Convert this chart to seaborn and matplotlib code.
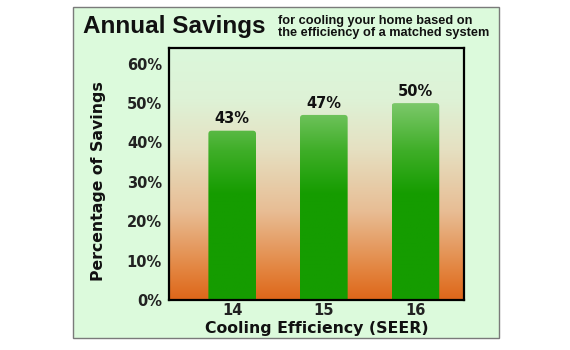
import numpy as np
import pandas as pd
import matplotlib
matplotlib.use("Agg")
import matplotlib.pyplot as plt
import seaborn as sns
from matplotlib.patches import Rectangle, FancyBboxPatch
from matplotlib.colors import LinearSegmentedColormap

# ---- data ----
seer = ["14", "15", "16"]
savings = [43, 47, 50]
ytick_vals = [0, 10, 20, 30, 40, 50, 60]
ytick_labels = ["0%", "10%", "20%", "30%", "40%", "50%", "60%"]
title = "Annual Savings"
subtitle = "for cooling your home based on\nthe efficiency of a matched system"
xlabel = "Cooling Efficiency (SEER)"
ylabel = "Percentage of Savings"

sns.set_theme(style="white")
plt.rcParams["font.family"] = ["Liberation Sans", "DejaVu Sans"]
BOLD = ["DejaVu Sans"]

W, H = 570, 350
fig = plt.figure(figsize=(W / 100, H / 100), dpi=100)
fig.patch.set_facecolor("white")

# light green panel
fig.patches.append(Rectangle((73 / W, 1 - 338 / H), (499 - 73) / W, (338 - 7) / H,
                             transform=fig.transFigure, facecolor="#dcfadc",
                             edgecolor="#7a7a7a", linewidth=1.0, zorder=-5))

ax = fig.add_axes([169 / W, 1 - 300 / H, (464 - 169) / W, (300 - 48) / H])
ax.set_zorder(5)
df = pd.DataFrame({"seer": seer, "savings": savings})
sns.barplot(data=df, x="seer", y="savings", ax=ax, width=0.52, color="#1a9e00")

YMAX = 64
ax.set_ylim(0, YMAX)
ax.set_xlim(-0.69, 2.53)

# background gradient
bg_cmap = LinearSegmentedColormap.from_list("bg", [
    (0.0, (0.87, 0.40, 0.10)),
    (0.12, (0.89, 0.52, 0.25)),
    (0.35, (0.91, 0.74, 0.58)),
    (0.6, (0.90, 0.88, 0.76)),
    (0.8, (0.87, 0.95, 0.84)),
    (1.0, (0.86, 0.97, 0.86)),
])
grad = np.linspace(0, 1, 256).reshape(-1, 1)
ax.imshow(grad, cmap=bg_cmap, origin="lower", aspect="auto",
          extent=[0, 1, 0, 1], transform=ax.transAxes, zorder=0)

# bar gradient (absolute in y)
bar_cmap = LinearSegmentedColormap.from_list("bar", [
    (0.0, "#159c00"),
    (27 / YMAX, "#159c00"),
    (38 / YMAX, "#3fae28"),
    (50 / YMAX, "#7cc86a"),
    (1.0, "#8ad07a"),
])
px_x = (464 - 169) / (2.53 + 0.69)
px_y = (300 - 48) / YMAX
for p, v in zip(list(ax.patches), savings):
    x0 = p.get_x()
    w = p.get_width()
    p.set_visible(False)
    fb = FancyBboxPatch((x0, -3), w, p.get_height() + 3,
                        boxstyle="round,pad=0,rounding_size=0.035",
                        mutation_aspect=px_x / px_y,
                        facecolor="none", edgecolor="none")
    ax.add_patch(fb)
    im = ax.imshow(grad, cmap=bar_cmap, origin="lower", aspect="auto",
                   extent=[x0, x0 + w, 0, YMAX], zorder=2)
    im.set_clip_path(fb)
    ax.text(x0 + w / 2, v + 1.1, f"{v}%", ha="center", va="bottom",
            fontsize=10.5, fontweight="bold", family=BOLD, color="#111111", zorder=3)

ax.set_xlim(-0.69, 2.53)
ax.set_ylim(0, YMAX)

ax.set_yticks(ytick_vals)
ax.set_yticklabels(ytick_labels, fontsize=10.5, fontweight="bold", family=BOLD, color="#222222")
ax.set_xticks(range(len(seer)))
ax.set_xticklabels(seer, fontsize=10.5, fontweight="bold", family=BOLD, color="#222222")
ax.tick_params(axis="both", length=0)
ax.tick_params(axis="y", pad=5)
ax.tick_params(axis="x", pad=2)
ax.set_xlabel(xlabel, fontsize=11.3, fontweight="bold", family=BOLD, color="#111111", labelpad=2)
ax.set_ylabel(ylabel, fontsize=11.3, fontweight="bold", family=BOLD, color="#111111")
ax.yaxis.set_label_coords(-0.215, 0.47)
for s in ax.spines.values():
    s.set_visible(True)
    s.set_color("black")
    s.set_linewidth(1.6)

fig.text(83 / W, 1 - 26 / H, title, fontsize=17.5, fontweight="bold",
         color="#111111", ha="left", va="center")
fig.text(278 / W, 1 - 27 / H, subtitle, fontsize=9.2, fontweight="bold",
         color="#111111", ha="left", va="center", linespacing=1.1)

fig.savefig("out.png", dpi=100)
